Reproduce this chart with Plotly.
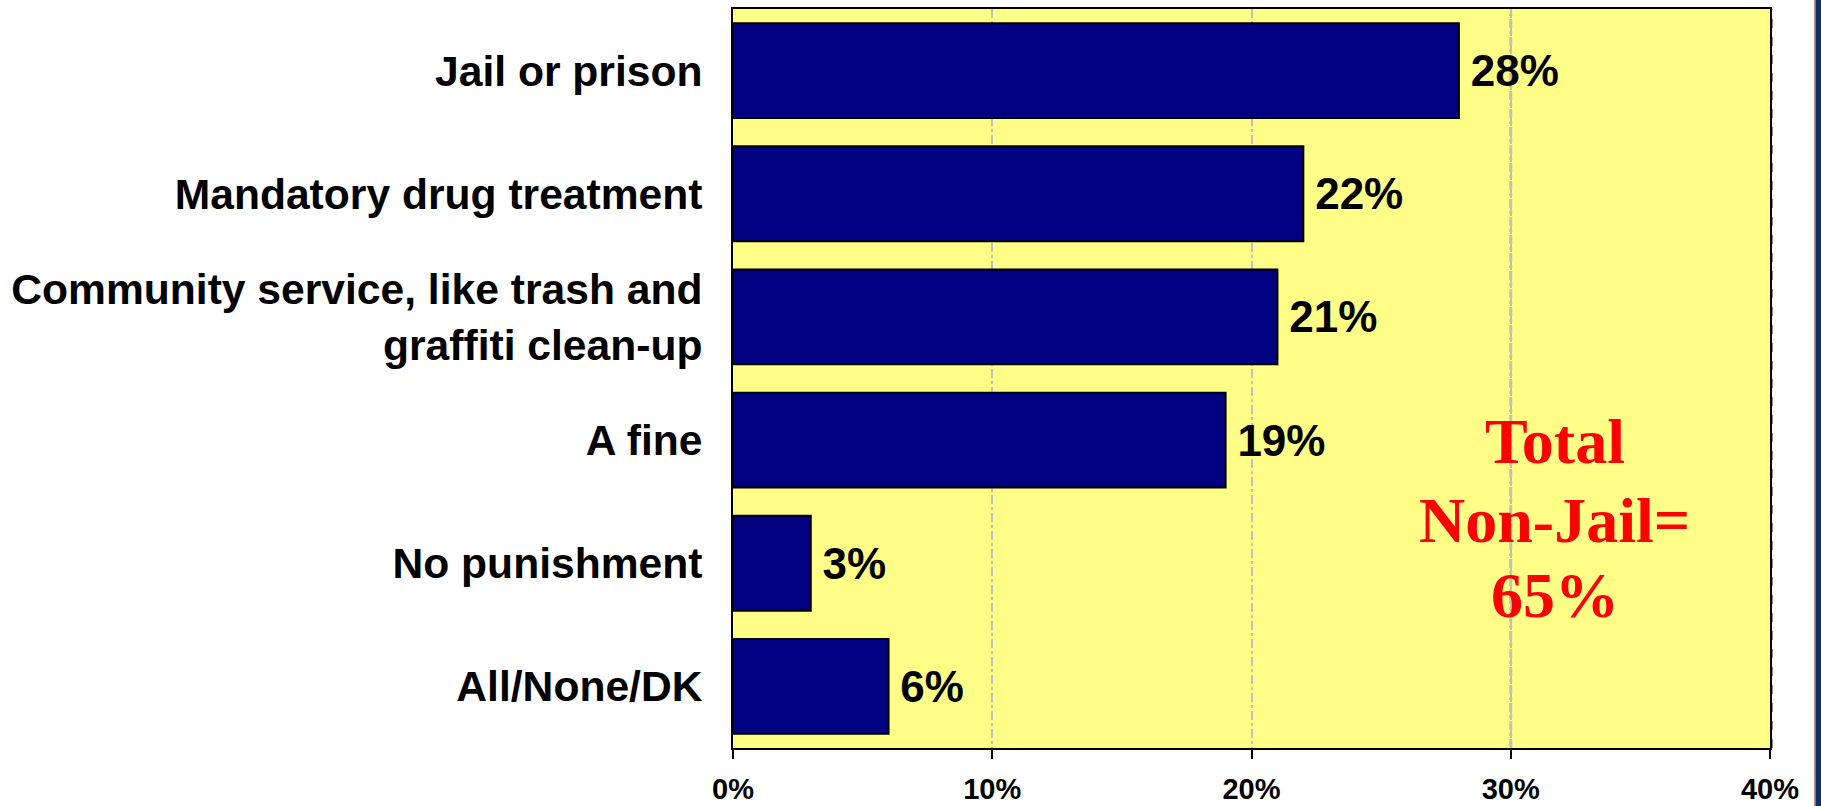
import plotly.graph_objects as go

categories = [
    "Jail or prison",
    "Mandatory drug treatment",
    "Community service, like trash and<br>graffiti clean-up",
    "A fine",
    "No punishment",
    "All/None/DK",
]
values = [28, 22, 21, 19, 3, 6]
x_ticks = [0, 10, 20, 30, 40]
x_tick_labels = ["0%", "10%", "20%", "30%", "40%"]
callout_lines = ["Total", "Non-Jail=", "65%"]

SANS = "Liberation Sans, Arial, sans-serif"
SERIF = "Liberation Serif, Times New Roman, serif"

fig = go.Figure()
fig.add_trace(go.Bar(
    x=values, y=categories, orientation="h",
    marker=dict(color="#000080", line=dict(color="#000000", width=2)),
    text=[f"\u2009{v}%" for v in values], textposition="outside",
    textfont=dict(family=SANS, size=44, color="#000000", weight="bold"),
    cliponaxis=False, width=0.77,
))

# callout text, one annotation per line
for line, ypos in zip(callout_lines, [0.415, 0.308, 0.206]):
    fig.add_annotation(
        x=31.7, xref="x", y=ypos, yref="paper", text=line, showarrow=False,
        font=dict(family=SERIF, size=64, color="#FF0000", weight="bold"),
        xanchor="center", yanchor="middle",
    )

# heavier gridline at 30%, dashed shadow next to frame, slide edge strip on the right
fig.add_shape(type="line", x0=30, x1=30, y0=0, y1=1, xref="x", yref="paper",
              line=dict(color="#C0C0C0", width=3, dash="dashdot"), layer="below")
fig.add_shape(type="line", x0=1.0025, x1=1.0025, y0=0, y1=1, xref="paper", yref="paper",
              line=dict(color="#808080", width=1, dash="dash"))
fig.add_shape(type="rect", x0=1.0425, x1=1.0438, y0=-0.1, y1=1.05, xref="paper", yref="paper",
              fillcolor="#E08080", line=dict(width=0))
fig.add_shape(type="rect", x0=1.0438, x1=1.08, y0=-0.1, y1=1.05, xref="paper", yref="paper",
              fillcolor="#003366", line=dict(width=0))

fig.update_layout(
    width=1821, height=806, showlegend=False,
    paper_bgcolor="#FFFFFF", plot_bgcolor="#FFFF88",
    margin=dict(l=733, r=51, t=9, b=58),
    font=dict(family=SANS, color="#000000"),
    xaxis=dict(
        range=[0, 40], tickvals=x_ticks, ticktext=x_tick_labels,
        tickfont=dict(family=SANS, size=29, weight="bold"),
        ticks="outside", ticklen=9, tickwidth=2, tickcolor="#000000",
        showline=True, linewidth=2, linecolor="#000000", mirror=True,
        showgrid=True, gridcolor="#C0C0C0", gridwidth=2, griddash="dashdot",
        zeroline=False, ticklabelstandoff=5, automargin=False,
    ),
    yaxis=dict(
        range=[5.5, -0.5], ticks="", showgrid=False,
        tickfont=dict(family=SANS, size=42.6, weight="bold"),
        showline=True, linewidth=2, linecolor="#000000", mirror=True,
        ticklabelstandoff=20, automargin=False,
    ),
)

# drop the default 8px body margin so the figure fills the window exactly
fig.write_html(
    "out.html",
    config={"displayModeBar": False},
    post_script="document.body.style.margin='0';document.body.style.overflow='hidden';",
)
